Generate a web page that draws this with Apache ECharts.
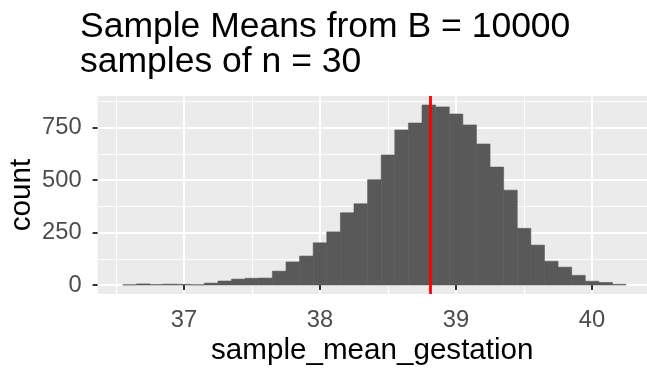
<!DOCTYPE html>
<html>
<head>
<meta charset="utf-8">
<script src="https://cdn.jsdelivr.net/npm/echarts@6/dist/echarts.min.js"></script>
<style>html,body{margin:0;padding:0;background:#fff}#c{width:647px;height:368px}</style>
</head>
<body>
<div id="c"></div>
<script>
// bin centers (binwidth 0.1) and counts
const binCenters = [36.6,36.7,36.8,36.9,37.0,37.1,37.2,37.3,37.4,37.5,37.6,37.7,37.8,37.9,38.0,38.1,38.2,38.3,38.4,38.5,38.6,38.7,38.8,38.9,39.0,39.1,39.2,39.3,39.4,39.5,39.6,39.7,39.8,39.9,40.0,40.1,40.2];
const counts = [1,5,2,4,3,1,9,19,28,32,33,66,110,138,201,253,344,387,502,620,739,772,858,849,815,763,672,562,452,270,190,113,85,46,18,12,3];
const binWidth = 0.1;
const meanValue = 38.81;
const xTicks = [37,38,39,40];
const xMinor = [36.5,37.5,38.5,39.5,40.5];
const yTicks = [0,250,500,750];
const yMinor = [125,375,625,875];
const titleText = 'Sample Means from B = 10000\nsamples of n = 30';
const xTitle = 'sample_mean_gestation';
const yTitle = 'count';

const data = binCenters.map((c, i) => [c, counts[i]]);
const FONT = 'Liberation Sans, Arial, sans-serif';
const chart = echarts.init(document.getElementById('c'), null, {renderer: 'canvas'});
const xmin = 36.365, xmax = 40.404, ymin = -42.9, ymax = 900.9;

chart.setOption({
  animation: false,
  title: {
    text: titleText, left: 80, top: 10, padding: 0,
    textStyle: {fontFamily: FONT, fontSize: 35.5, fontWeight: 'normal', color: '#000', lineHeight: 35}
  },
  grid: {left: 97.6, right: 0, top: 96, bottom: 74, show: true, backgroundColor: '#EBEBEB', borderWidth: 0,
         containLabel: false, outerBoundsMode: 'none'},
  xAxis: [
    {type: 'value', min: xmin, max: xmax, position: 'bottom',
     name: xTitle, nameLocation: 'middle', nameGap: 42, nameMoveOverlap: false,
     nameTextStyle: {fontFamily: FONT, fontSize: 29.6, color: '#000'},
     axisLine: {show: false},
     axisTick: {show: true, length: 5, customValues: xTicks, lineStyle: {color: '#333333', width: 2}},
     axisLabel: {show: true, customValues: xTicks, margin: 14, fontFamily: FONT, fontSize: 23.7, color: '#4D4D4D'},
     splitLine: {show: true, lineStyle: {color: '#FFFFFF', width: 2}}},
    {type: 'value', min: xmin, max: xmax, position: 'bottom',
     axisLine: {show: false}, axisTick: {show: false, customValues: xMinor}, axisLabel: {show: false, customValues: xMinor},
     splitLine: {show: true, lineStyle: {color: '#FFFFFF', width: 1}}}
  ],
  yAxis: [
    {type: 'value', min: ymin, max: ymax, position: 'left',
     name: yTitle, nameLocation: 'middle', nameGap: 61, nameRotate: 90, nameMoveOverlap: false,
     nameTextStyle: {fontFamily: FONT, fontSize: 29.6, color: '#000'},
     axisLine: {show: false},
     axisTick: {show: true, length: 5, customValues: yTicks, lineStyle: {color: '#333333', width: 2}},
     axisLabel: {show: true, customValues: yTicks, margin: 16, fontFamily: FONT, fontSize: 23.7, color: '#4D4D4D'},
     splitLine: {show: true, lineStyle: {color: '#FFFFFF', width: 2}}},
    {type: 'value', min: ymin, max: ymax, position: 'left',
     axisLine: {show: false}, axisTick: {show: false, customValues: yMinor}, axisLabel: {show: false, customValues: yMinor},
     splitLine: {show: true, lineStyle: {color: '#FFFFFF', width: 1}}}
  ],
  series: [{
    type: 'custom',
    xAxisIndex: 0, yAxisIndex: 0,
    data: data,
    encode: {x: 0, y: 1},
    clip: true,
    renderItem: function (params, api) {
      const x = api.value(0), y = api.value(1);
      const p0 = api.coord([x - binWidth / 2, y]);
      const p1 = api.coord([x + binWidth / 2, 0]);
      return {type: 'rect', shape: {x: p0[0], y: p0[1], width: p1[0] - p0[0], height: p1[1] - p0[1]},
              style: {fill: '#595959', stroke: '#595959', lineWidth: 0.6}};
    },
    markLine: {
      silent: true, symbol: ['none', 'none'], label: {show: false},
      lineStyle: {color: '#FF0000', width: 2.8, type: 'solid'},
      data: [{xAxis: meanValue}]
    }
  }]
});
</script>
</body>
</html>
